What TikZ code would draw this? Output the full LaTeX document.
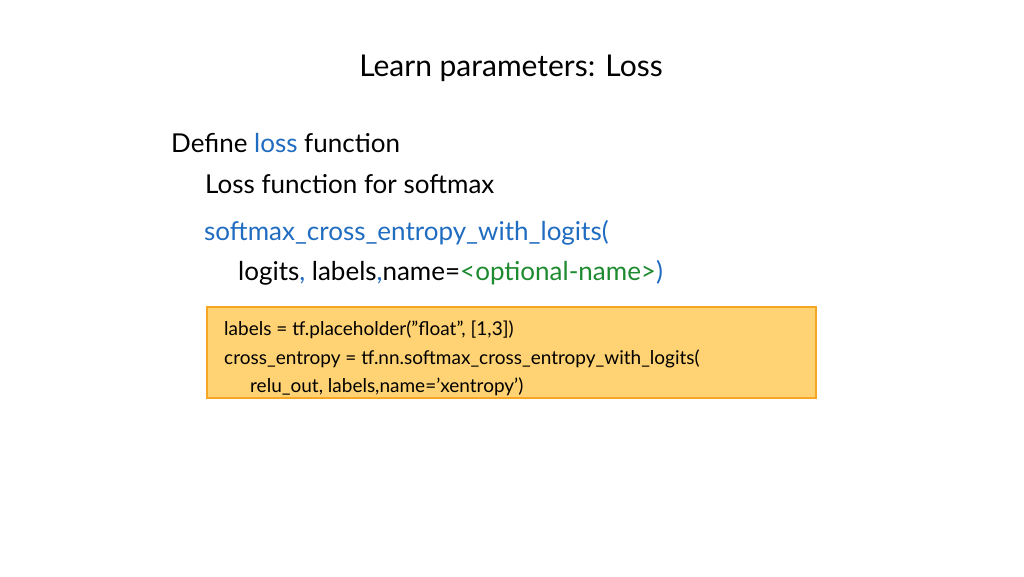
\documentclass[tikz,border=0pt]{standalone}
\usepackage{fontspec}
\setmainfont{Lato}
\definecolor{kblue}{HTML}{1F6CC0}
\definecolor{kgreen}{HTML}{1E8A30}
\definecolor{boxfill}{HTML}{FFD273}
\definecolor{boxline}{HTML}{F5A623}
\begin{document}
\begin{tikzpicture}[x=1pt,y=-1pt,
  txt/.style={anchor=base west,inner sep=0pt,font=\fontsize{26}{30}\selectfont},
  code/.style={anchor=base west,inner sep=0pt,font=\fontsize{19}{22}\selectfont}]
\useasboundingbox (0,0) rectangle (1024,576);
\node[anchor=base,inner sep=0pt,font=\fontsize{30}{34}\selectfont] (title) at (511,76) {Learn parameters: Loss};
\node[txt] (l1) at (171,152) {Define \textcolor{kblue}{loss} function};
\node[txt] (l2) at (205,193) {Loss function for softmax};
\node[txt,text=kblue] (l3) at (204,240) {softmax\_cross\_entropy\_with\_logits(};
\node[txt] (l4) at (238,280) {logits\textcolor{kblue}{,} labels\textcolor{kblue}{,}name=\textcolor{kgreen}{<optional-name>}\textcolor{kblue}{)}};
\draw[fill=boxfill,draw=boxline,line width=1.5pt] (207,307) rectangle (816,398);
\node[code] (c1) at (224,335) {labels = tf.placeholder("float", [1,3])};
\node[code] (c2) at (224,364) {cross\_entropy = tf.nn.softmax\_cross\_entropy\_with\_logits(};
\node[code] (c3) at (250,392) {relu\_out, labels,name='xentropy')};
\end{tikzpicture}
\end{document}
